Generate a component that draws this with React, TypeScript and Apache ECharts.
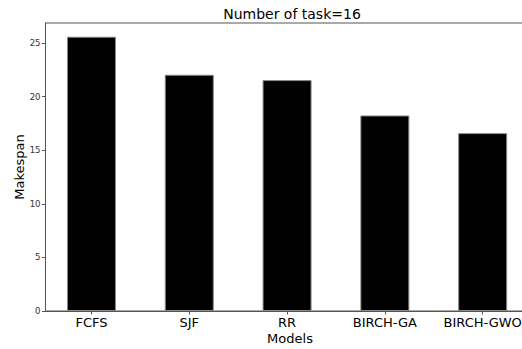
import React, { useEffect, useRef } from "react";
import * as echarts from "echarts";

const categories = ["FCFS", "SJF", "RR", "BIRCH-GA", "BIRCH-GWO"];
const makespan = [25.6, 22.05, 21.55, 18.25, 16.6];
const yTicks = [0, 5, 10, 15, 20, 25];

const FONT = "DejaVu Sans";

export default function App() {
  const ref = useRef<HTMLDivElement>(null);

  useEffect(() => {
    if (!ref.current) return;
    const chart = echarts.init(ref.current, null, { renderer: "svg" });
    const yMax = Math.max(...makespan) * 1.05;
    const catIdx = categories.map((_, i) => i);

    chart.setOption({
      animation: false,
      backgroundColor: "#ffffff",
      title: {
        text: "Number of task=16",
        left: 287,
        top: 2,
        textAlign: "center",
        textStyle: { fontFamily: FONT, fontSize: 14, fontWeight: "normal", color: "#000" },
      },
      grid: {
        left: 45.5,
        top: 23,
        width: 489,
        bottom: 38,
        outerBoundsMode: "none",
        show: true,
        borderColor: "#555",
        borderWidth: 1,
        backgroundColor: "transparent",
      },
      xAxis: {
        type: "value",
        min: -0.47,
        max: 4.53,
        name: "Models",
        nameLocation: "middle",
        nameGap: 21,
        nameMoveOverlap: false,
        nameTextStyle: { fontFamily: FONT, fontSize: 13, color: "#000" },
        axisLine: { show: true, onZero: false, lineStyle: { color: "#555" } },
        axisTick: {
          show: true,
          inside: false,
          length: 3.5,
          lineStyle: { color: "#555" },
          customValues: catIdx,
        },
        axisLabel: {
          fontFamily: FONT,
          fontSize: 13,
          color: "#000",
          margin: 5,
          customValues: catIdx,
          formatter: (v: number) => categories[Math.round(v)] ?? "",
        },
        splitLine: { show: false },
      },
      yAxis: {
        type: "value",
        min: 0,
        max: yMax,
        name: "Makespan",
        nameLocation: "middle",
        nameGap: 20,
        nameMoveOverlap: false,
        nameTextStyle: { fontFamily: FONT, fontSize: 13, color: "#000" },
        axisLine: { show: true, onZero: false, lineStyle: { color: "#555" } },
        axisTick: {
          show: true,
          inside: false,
          length: 3.5,
          lineStyle: { color: "#555" },
          customValues: yTicks,
        },
        axisLabel: {
          fontFamily: FONT,
          fontSize: 8.5,
          color: "#333",
          margin: 5,
          customValues: yTicks,
        },
        splitLine: { show: false },
      },
      series: [
        {
          type: "bar",
          data: makespan.map((v, i) => [i, v]),
          barWidth: 49,
          itemStyle: { color: "#000000", borderColor: "#888", borderWidth: 1 },
        },
      ],
    });

    return () => chart.dispose();
  }, []);

  return <div ref={ref} style={{ width: 522, height: 349, position: "absolute", left: 0, top: 0 }} />;
}
